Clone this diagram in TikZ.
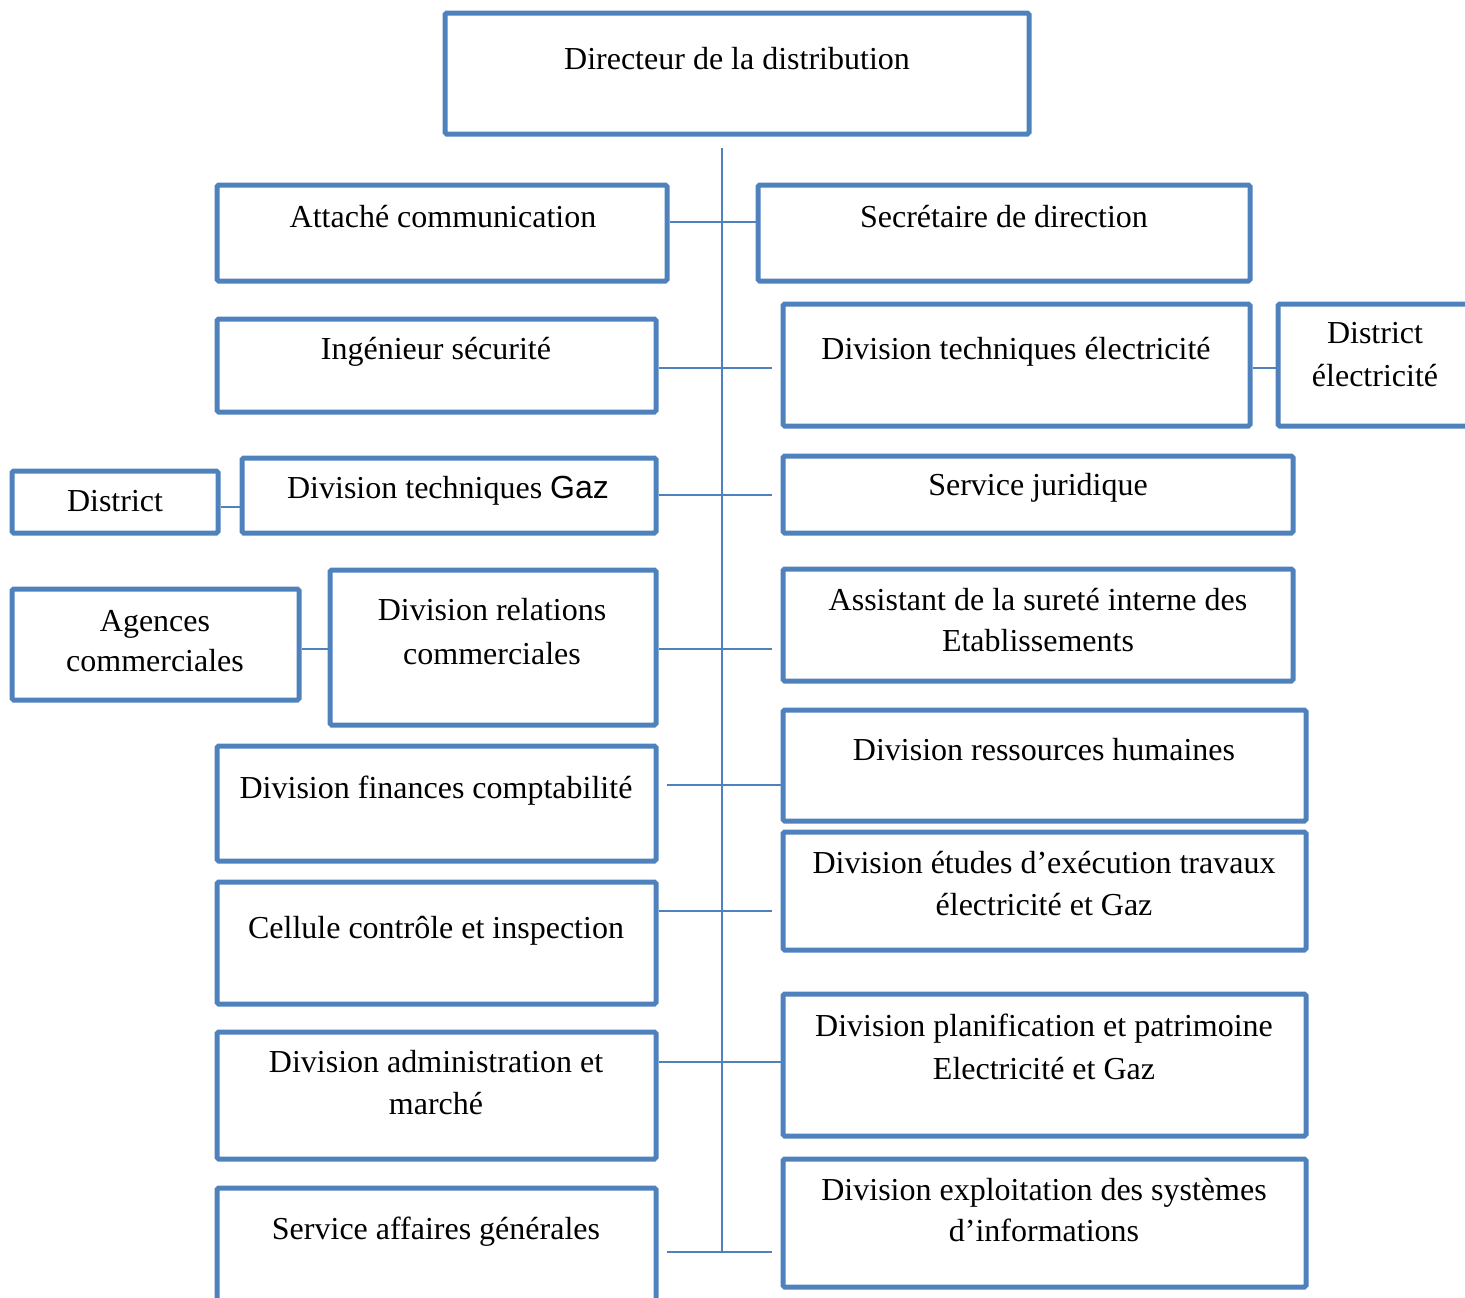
\documentclass[tikz,border=0pt]{standalone}
\usepackage{fontspec}
\setmainfont{Liberation Serif}
\newfontfamily\gazfont{Liberation Sans}
\usetikzlibrary{fit}
\definecolor{orgblue}{RGB}{79,129,189}
\begin{document}
\begin{tikzpicture}[x=0.5pt,y=-0.5pt,
  box/.style={draw=orgblue, line width=2.5pt, inner sep=0pt, rounded corners=0.8pt},
  conn/.style={draw=orgblue, line width=1pt},
  lbl/.style={anchor=base, inner sep=0pt, font=\fontsize{16pt}{21pt}\selectfont, text=black}]
\useasboundingbox (0,0) rectangle (1465,1297);

% ---- boxes ----
\node[box, fit={(445,13) (1029,134)}] (dir) {};
\node[box, fit={(217,185) (667,281)}] (att) {};
\node[box, fit={(758,185) (1250,281)}] (sec) {};
\node[box, fit={(217,319) (656,412)}] (ing) {};
\node[box, fit={(783,304) (1250,426)}] (dte) {};
\node[box, fit={(1278,304) (1475,426)}] (dse) {};
\node[box, fit={(12,471) (218,533)}] (dsg) {};
\node[box, fit={(242,458) (656,533)}] (dtg) {};
\node[box, fit={(783,456) (1293,533)}] (jur) {};
\node[box, fit={(12,589) (299,700)}] (agc) {};
\node[box, fit={(330,570) (656,725)}] (drc) {};
\node[box, fit={(783,569) (1293,681)}] (ass) {};
\node[box, fit={(217,746) (656,861)}] (fin) {};
\node[box, fit={(783,710) (1306,821)}] (drh) {};
\node[box, fit={(217,882) (656,1004)}] (cci) {};
\node[box, fit={(783,832) (1306,950)}] (det) {};
\node[box, fit={(217,1032) (656,1159)}] (dam) {};
\node[box, fit={(783,994) (1306,1136)}] (dpp) {};
\node[box, fit={(217,1188) (656,1310)}] (sag) {};
\node[box, fit={(783,1159) (1306,1287)}] (des) {};

% ---- labels ----
\node[lbl] (t-dir) at (737,69) {Directeur de la distribution};
\node[lbl] (t-att) at (443,227) {Attaché communication};
\node[lbl] (t-sec) at (1004,227) {Secrétaire de direction};
\node[lbl] (t-ing) at (436,359) {Ingénieur sécurité};
\node[lbl] (t-dte) at (1016,359) {Division techniques électricité};
\node[lbl] (t-dse1) at (1375,343) {District};
\node[lbl] (t-dse2) at (1375,386) {électricité};
\node[lbl] (t-dsg) at (115,511) {District};
\node[lbl] (t-dtg) at (448,498) {Division techniques {\gazfont Gaz}};
\node[lbl] (t-jur) at (1038,495) {Service juridique};
\node[lbl] (t-agc1) at (155,631) {Agences};
\node[lbl] (t-agc2) at (155,671) {commerciales};
\node[lbl] (t-drc1) at (492,620) {Division relations};
\node[lbl] (t-drc2) at (492,664) {commerciales};
\node[lbl] (t-ass1) at (1038,610) {Assistant de la sureté interne des};
\node[lbl] (t-ass2) at (1038,651) {Etablissements};
\node[lbl] (t-fin) at (436,798) {Division finances comptabilité};
\node[lbl] (t-drh) at (1044,760) {Division ressources humaines};
\node[lbl] (t-cci) at (436,938) {Cellule contrôle et inspection};
\node[lbl] (t-det1) at (1044,873) {Division études d’exécution travaux};
\node[lbl] (t-det2) at (1044,915) {électricité et Gaz};
\node[lbl] (t-dam1) at (436,1072) {Division administration et};
\node[lbl] (t-dam2) at (436,1114) {marché};
\node[lbl] (t-dpp1) at (1044,1036) {Division planification et patrimoine};
\node[lbl] (t-dpp2) at (1044,1079) {Electricité et Gaz};
\node[lbl] (t-sag) at (436,1239) {Service affaires générales};
\node[lbl] (t-des1) at (1044,1200) {Division exploitation des systèmes};
\node[lbl] (t-des2) at (1044,1241) {d’informations};

% ---- trunk and junctions ----
\coordinate (top) at (722,148);
\coordinate (j1) at (722,222);
\coordinate (j2) at (722,368);
\coordinate (j3) at (722,495);
\coordinate (j4) at (722,649);
\coordinate (j5) at (722,785);
\coordinate (j6) at (722,911);
\coordinate (j7) at (722,1062);
\coordinate (bot) at (722,1252);
\coordinate (rfree) at (772,0);
\coordinate (lfree) at (667,0);

\draw[conn] (top) -- (bot);
\draw[conn] (att.east |- j1) -- (sec.west |- j1);
\draw[conn] (ing.east |- j2) -- (rfree |- j2);
\draw[conn] (dtg.east |- j3) -- (rfree |- j3);
\draw[conn] (drc.east |- j4) -- (rfree |- j4);
\draw[conn] (lfree |- j5) -- (drh.west |- j5);
\draw[conn] (cci.east |- j6) -- (rfree |- j6);
\draw[conn] (dam.east |- j7) -- (dpp.west |- j7);
\draw[conn] (lfree |- bot) -- (rfree |- bot);

% ---- side links ----
\draw[conn] (dte.east |- j2) -- (dse.west |- j2);
\coordinate (s2) at (0,507);
\draw[conn] (dsg.east |- s2) -- (dtg.west |- s2);
\draw[conn] (agc.east |- j4) -- (drc.west |- j4);
\end{tikzpicture}
\end{document}
